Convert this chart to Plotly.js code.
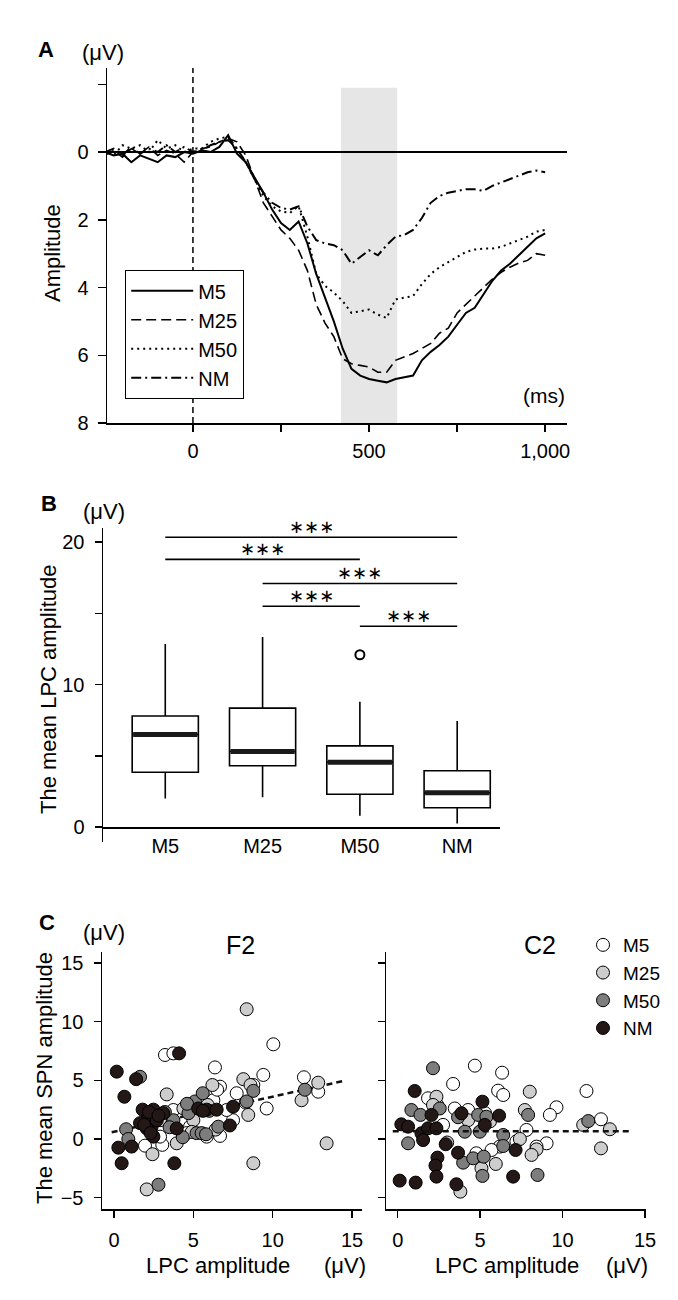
<!DOCTYPE html>
<html>
<head>
<meta charset="utf-8">
<script src="https://cdn.plot.ly/plotly-3.0.1.min.js"></script>
<style>
  html, body { margin: 0; padding: 0; background: #fff; }
  #fig { width: 678px; height: 1300px; }
</style>
</head>
<body>
<div id="fig"></div>
<script>
// ---- panel A: grand average waveforms (uV, positive plotted downwards)
const timeMs = [-250, -225, -200, -175, -150, -125, -100, -75, -50, -25, 0, 25, 50, 75, 100,
  125, 150, 175, 200, 225, 250, 275, 300, 325, 350, 375, 400, 425, 450, 475, 500,
  525, 550, 575, 600, 625, 650, 675, 700, 725, 750, 775, 800, 825, 850, 875, 900,
  925, 950, 975, 1000];
const erpM5 = [0.0, 0.1, 0.05, 0.3, 0.1, 0.2, 0.3, 0.1, 0.15, 0.0, 0.05, -0.05, 0.0, -0.15, -0.5,
  0.05, 0.3, 0.75, 1.2, 1.7, 2.1, 2.3, 2.05, 2.7, 3.6, 4.3, 5.0, 5.8, 6.4, 6.6, 6.7,
  6.75, 6.8, 6.7, 6.65, 6.6, 6.15, 5.9, 5.7, 5.45, 5.1, 4.75, 4.6, 4.2, 3.8, 3.5, 3.3,
  3.05, 2.8, 2.55, 2.4];
const erpM25 = [0.1, -0.05, 0.15, -0.1, 0.05, -0.15, 0.1, -0.05, 0.05, 0.3, 0.0, -0.1, -0.15, -0.3, -0.4,
  -0.3, 0.1, 0.8, 1.5, 1.9, 2.3, 2.55, 2.9, 3.5, 4.5, 5.05, 5.45, 6.1, 6.25, 6.3, 6.35,
  6.5, 6.5, 6.15, 6.05, 5.95, 5.8, 5.65, 5.35, 5.2, 4.75, 4.5, 4.25, 4.0, 3.75, 3.55, 3.4,
  3.28, 3.2, 3.0, 3.05];
const erpM50 = [-0.1, 0.1, -0.2, -0.1, -0.2, 0.0, -0.35, -0.1, -0.2, 0.0, -0.1, -0.1, -0.3, -0.4, -0.45,
  -0.1, 0.3, 0.8, 1.3, 1.6, 1.75, 1.8, 1.6, 2.5, 3.6, 3.95, 4.15, 4.4, 4.75, 4.7, 4.65,
  4.8, 4.9, 4.35, 4.3, 4.25, 3.9, 3.6, 3.4, 3.25, 3.1, 2.95, 2.88, 2.85, 2.85, 2.8, 2.7,
  2.6, 2.5, 2.35, 2.3];
const erpNM = [0.0, -0.1, 0.1, -0.15, 0.05, -0.1, 0.0, -0.2, 0.0, -0.15, 0.0, -0.05, -0.2, -0.3, -0.35,
  -0.1, 0.3, 0.8, 1.2, 1.5, 1.65, 1.7, 1.6, 2.2, 2.6, 2.7, 2.75, 2.9, 3.3, 3.1, 2.9,
  3.05, 2.75, 2.5, 2.45, 2.3, 1.95, 1.5, 1.3, 1.2, 1.15, 1.1, 1.1, 1.15, 1.0, 0.9, 0.8,
  0.7, 0.6, 0.55, 0.6];
const lpcWindow = [420, 580];

// ---- panel B: mean LPC amplitude box summaries
const groups = ['M5', 'M25', 'M50', 'NM'];
const lpcLowerFence = [2.0, 2.1, 0.8, 0.25];
const lpcQ1 = [3.85, 4.3, 2.3, 1.35];
const lpcMedian = [6.5, 5.3, 4.55, 2.4];
const lpcQ3 = [7.8, 8.35, 5.7, 3.95];
const lpcUpperFence = [12.85, 13.35, 8.8, 7.45];
const lpcOutlierGroup = ['M50'];
const lpcOutlierValue = [12.1];
const sigPairs = [[0, 3], [0, 2], [1, 3], [1, 2], [2, 3]];
const sigLevels = [20.35, 18.8, 17.1, 15.5, 14.1];
const sigLabel = '∗∗∗';

// ---- panel C: LPC amplitude vs. SPN amplitude, [x, y] per participant
const f2M5 = [[3.21, 7.16], [3.74, 7.3], [10.04, 8.07], [6.36, 6.1], [9.41, 5.46], [6.68, 4.46], [7.73, 3.9],
  [9.62, 2.6], [11.97, 5.26], [12.87, 4.03], [1.95, -0.57], [3.04, -0.5], [6.68, 0.26], [5.84, 0.2],
  [3.74, 2.47], [4.79, 1.05], [6.26, 3.3], [7.5, 1.6], [4.58, 0.5], [2.9, 0.2], [8.78, 4.6], [7.1, 2.47],
  [6.5, 4.2], [4.9, 3.0], [8.3, 3.1], [3.5, 1.3]];
const f2M25 = [[8.36, 11.06], [3.32, 3.8], [2.42, -1.3], [2.06, -4.3], [8.78, -2.07], [13.4, -0.37],
  [6.2, 4.6], [8.15, 5.1], [8.46, 2.05], [11.82, 3.3], [12.87, 4.8], [4.37, 2.6], [5.0, 1.6], [3.95, -0.37],
  [4.9, 0.6], [5.9, 2.9], [6.4, 0.8], [2.9, 1.6], [8.6, 4.6]];
const f2M50 = [[1.64, 5.3], [0.76, 0.83], [0.9, 0.0], [2.8, -3.9], [3.74, 1.6], [4.33, 0.15], [4.69, 2.2],
  [5.1, 3.2], [5.59, 3.9], [5.2, 0.5], [5.52, 0.5], [6.57, 1.05], [8.36, 3.2], [8.78, 4.1], [12.03, 4.2],
  [3.5, 1.0], [4.6, 3.0], [6.0, 2.4], [5.8, 0.4], [3.2, 2.3]];
const f2NM = [[0.17, 5.74], [1.39, 5.1], [0.65, 3.6], [0.27, -0.74], [1.11, -0.65], [0.48, -2.07], [3.8, -2.07],
  [4.1, 7.3], [1.8, 2.5], [2.48, 2.5], [2.06, 1.6], [1.64, 1.35], [2.37, 1.05], [2.69, 1.6], [3.1, 2.2],
  [2.48, 0.2], [3.95, 0.9], [5.3, 2.6], [5.84, 2.5], [6.47, 2.5], [7.5, 2.75], [7.3, 1.15], [2.06, 0.9],
  [2.2, 2.3], [2.8, 2.0], [1.9, 1.2], [2.3, 0.5], [5.6, 2.4]];
const c2M5 = [[4.68, 6.25], [6.33, 5.65], [3.36, 4.69], [6.09, 4.12], [6.4, 3.75], [11.45, 4.09], [1.84, 3.47],
  [9.63, 2.7], [9.23, 2.05], [12.33, 1.68], [9.03, -0.37], [8.42, -0.65], [4.77, -1.22], [6.19, -0.65],
  [3.46, 2.6], [4.27, 2.47], [7.81, 0.77], [2.75, 1.2], [5.69, -0.94], [2.4, 2.9], [5.3, 2.2], [7.2, -0.2]];
const c2M25 = [[2.35, 3.6], [8.01, 4.03], [2.14, 2.9], [7.71, 2.47], [4.27, 1.6], [11.25, 1.2], [12.87, 0.83],
  [12.33, -0.8], [7.41, 0.0], [8.42, -0.88], [8.12, -1.36], [5.95, -2.13], [5.08, -2.5], [3.8, -4.49],
  [3.0, -0.3], [5.6, 1.5]];
const c2M50 = [[2.14, 6.03], [0.83, 2.47], [1.38, 2.05], [2.55, 2.6], [3.66, 1.85], [4.88, 2.05], [5.38, 1.9],
  [4.07, 0.62], [4.98, 0.62], [6.4, 0.34], [6.4, -0.6], [7.91, 2.05], [11.56, 1.53], [0.63, -0.37],
  [3.97, -2.02], [4.58, -1.65], [5.22, -1.51], [5.14, -3.15], [8.48, -3.07]];
const c2NM = [[1.03, 4.09], [5.14, 3.18], [0.22, 1.25], [0.63, 1.05], [1.44, 0.49], [1.54, -0.09], [1.84, 0.91],
  [2.05, 2.05], [2.35, 0.91], [2.91, -0.45], [3.87, 2.19], [6.15, 1.99], [5.28, 1.2], [3.66, -1.17],
  [2.41, -1.59], [2.29, -2.27], [2.35, -3.21], [0.12, -3.55], [1.09, -3.72], [3.56, -3.86], [7.0, -3.21],
  [7.15, -0.94]];
const f2FitX = [-0.15, 14.45];
const f2FitY = [0.57, 4.94];
const c2FitX = [-0.3, 14.1];
const c2FitY = [0.65, 0.65];

const groupFill = ['#ffffff', '#cdcdcd', '#7d7d7d', '#231815'];

const W = 678, H = 1300;
const font = '"Liberation Sans", Arial, sans-serif';
const px = v => v / W;
const py = v => 1 - v / H;

const traces = [];

// A
const erpSeries = [erpM5, erpM25, erpM50, erpNM];
const erpDash = ['solid', '10px,5px', '2px,4px', '10px,4px,2px,4px'];
const erpWidth = [2, 1.6, 2, 2];
erpSeries.forEach((ys, i) => {
  traces.push({
    x: timeMs, y: ys, mode: 'lines', type: 'scatter', name: groups[i],
    line: { color: '#000', width: erpWidth[i], dash: erpDash[i] },
    xaxis: 'x', yaxis: 'y', legend: 'legend'
  });
});

// B
traces.push({
  type: 'box', x: groups, q1: lpcQ1, median: lpcMedian, q3: lpcQ3,
  lowerfence: lpcLowerFence, upperfence: lpcUpperFence,
  width: 0.68, whiskerwidth: 0, fillcolor: '#fff',
  line: { color: '#000', width: 1.6 }, boxpoints: false,
  xaxis: 'x2', yaxis: 'y2', showlegend: false, hoverinfo: 'skip'
});
traces.push({
  type: 'box', x: groups, q1: lpcMedian, median: lpcMedian, q3: lpcMedian,
  lowerfence: lpcMedian, upperfence: lpcMedian,
  width: 0.66, whiskerwidth: 0, fillcolor: 'rgba(0,0,0,0)',
  line: { color: '#1a1a1a', width: 5 }, boxpoints: false,
  xaxis: 'x2', yaxis: 'y2', showlegend: false, hoverinfo: 'skip'
});
traces.push({
  type: 'scatter', mode: 'markers', x: lpcOutlierGroup, y: lpcOutlierValue,
  marker: { symbol: 'circle-open', size: 9, color: '#000', line: { width: 2 } },
  xaxis: 'x2', yaxis: 'y2', showlegend: false
});

// C
const fitLine = (xs, ys, xa, ya) => ({
  type: 'scatter', mode: 'lines', x: xs, y: ys,
  line: { color: '#111', width: 2.5, dash: '6px,4px' },
  xaxis: xa, yaxis: ya, showlegend: false
});
traces.push(fitLine(f2FitX, f2FitY, 'x3', 'y3'));
[f2M5, f2M25, f2M50, f2NM].forEach((pts, i) => {
  traces.push({
    type: 'scatter', mode: 'markers', name: groups[i],
    x: pts.map(p => p[0]), y: pts.map(p => p[1]),
    marker: { size: 13, color: groupFill[i], line: { color: '#000', width: 1 } },
    xaxis: 'x3', yaxis: 'y3', legend: 'legend2'
  });
});
[c2M5, c2M25, c2M50, c2NM].forEach((pts, i) => {
  traces.push({
    type: 'scatter', mode: 'markers', name: groups[i],
    x: pts.map(p => p[0]), y: pts.map(p => p[1]),
    marker: { size: 13, color: groupFill[i], line: { color: '#000', width: 1 } },
    xaxis: 'x4', yaxis: 'y4', showlegend: false
  });
});
traces.push(fitLine(c2FitX, c2FitY, 'x4', 'y4'));

const axBase = {
  showgrid: false, zeroline: false, showline: true, linecolor: '#000', linewidth: 1.5,
  ticks: 'outside', ticklen: 7, tickwidth: 1.5, tickcolor: '#000',
  tickfont: { family: font, size: 20, color: '#000' }, fixedrange: true
};

const shapes = [
  { type: 'rect', xref: 'x', yref: 'y', x0: lpcWindow[0], x1: lpcWindow[1], y0: -1.9, y1: 8,
    fillcolor: '#e6e6e6', line: { width: 0 }, layer: 'below' },
  { type: 'line', xref: 'x', yref: 'y domain', x0: 0, x1: 0, y0: 0, y1: 1,
    line: { color: '#000', width: 1.5, dash: '6px,4px' } }
];
const annotations = [];
sigPairs.forEach((pr, i) => {
  shapes.push({ type: 'line', xref: 'x2', yref: 'y2', x0: pr[0], x1: pr[1], y0: sigLevels[i], y1: sigLevels[i],
    line: { color: '#000', width: 1.6 } });
  annotations.push({ xref: 'x2', yref: 'y2', x: (pr[0] + pr[1]) / 2, y: sigLevels[i], yshift: 11,
    text: sigLabel, showarrow: false, yanchor: 'middle',
    font: { family: 'DejaVu Sans', size: 18, color: '#000' } });
});

const lab = (text, x, y, size, extra) => Object.assign({
  xref: 'paper', yref: 'paper', x: px(x), y: py(y), text: text, showarrow: false,
  xanchor: 'center', yanchor: 'middle', font: { family: font, size: size, color: '#000' }
}, extra || {});

annotations.push(
  lab('<b>A</b>', 46, 50, 22), lab('(μV)', 103, 52, 22), lab('(ms)', 567, 395, 21, { xanchor: 'right' }),
  lab('Amplitude', 52, 253, 22, { textangle: -90 }),
  lab('<b>B</b>', 49, 504, 22), lab('(μV)', 104, 511, 22),
  lab('The mean LPC amplitude', 48, 690, 22, { textangle: -90 }),
  lab('<b>C</b>', 47, 922, 22), lab('(μV)', 104, 932, 22),
  lab('The mean SPN amplitude', 44, 1078, 22, { textangle: -90 }),
  lab('F2', 240, 945, 25), lab('C2', 540, 945, 25),
  lab('LPC amplitude', 218, 1265, 22), lab('(μV)', 345, 1265, 22),
  lab('LPC amplitude', 507, 1265, 22), lab('(μV)', 627, 1265, 22)
);

const layout = {
  width: W, height: H,
  margin: { l: 0, r: 0, t: 0, b: 0 },
  paper_bgcolor: '#fff', plot_bgcolor: 'rgba(0,0,0,0)',
  font: { family: font, color: '#000' },
  shapes: shapes,
  annotations: annotations,
  xaxis: Object.assign({}, axBase, {
    domain: [px(107), px(567)], anchor: 'y', range: [-244, 1062],
    tickvals: [0, 250, 500, 750, 1000], ticktext: ['0', '', '500', '', '1,000'], ticklabelstandoff: 2
  }),
  yaxis: Object.assign({}, axBase, {
    domain: [py(423), py(68)], anchor: 'x', range: [8, -2.48],
    tickvals: [-2, 0, 2, 4, 6, 8], ticktext: ['', '0', '2', '4', '6', '8'],
    zeroline: true, zerolinecolor: '#000', zerolinewidth: 1.5, ticklen: 8, ticklabelstandoff: 5
  }),
  xaxis2: Object.assign({}, axBase, {
    domain: [px(103), px(500)], anchor: 'free', position: py(827), type: 'category',
    range: [-0.64, 3.44], ticks: ''
  }),
  yaxis2: Object.assign({}, axBase, {
    domain: [py(842), py(528)], anchor: 'x2', range: [-1.05, 21],
    tickvals: [0, 5, 10, 15, 20], ticktext: ['0', '', '10', '', '20'], ticklabelstandoff: 6
  }),
  xaxis3: Object.assign({}, axBase, {
    domain: [px(102), px(362)], anchor: 'y3', range: [-0.76, 15.63],
    tickvals: [0, 5, 10, 15], ticklabelstandoff: 5
  }),
  yaxis3: Object.assign({}, axBase, {
    domain: [py(1209), py(952)], anchor: 'x3', range: [-5.97, 15.94],
    tickvals: [-5, 0, 5, 10, 15], ticklabelstandoff: 6
  }),
  xaxis4: Object.assign({}, axBase, {
    domain: [px(386), px(646)], anchor: 'y4', range: [-0.71, 15.06],
    tickvals: [0, 5, 10, 15], ticklabelstandoff: 5
  }),
  yaxis4: Object.assign({}, axBase, {
    domain: [py(1209), py(952)], anchor: 'x4', range: [-5.97, 15.94],
    tickvals: [-5, 0, 5, 10, 15], showticklabels: false
  }),
  legend: {
    x: px(125), y: py(270), xanchor: 'left', yanchor: 'top',
    bordercolor: '#000', borderwidth: 1.2, bgcolor: '#fff',
    font: { family: font, size: 20, color: '#000' }, itemwidth: 62
  },
  legend2: {
    x: px(583), y: py(926), xanchor: 'left', yanchor: 'top',
    bgcolor: 'rgba(0,0,0,0)', borderwidth: 0, itemsizing: 'trace',
    font: { family: font, size: 19, color: '#000' }
  }
};

Plotly.newPlot('fig', traces, layout, { displayModeBar: false, staticPlot: true });
</script>
</body>
</html>
